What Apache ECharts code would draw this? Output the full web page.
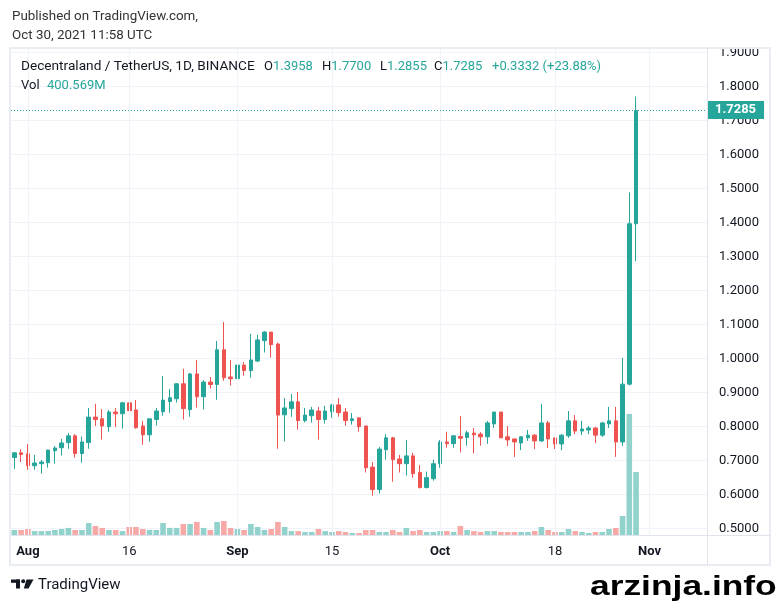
<!DOCTYPE html>
<html><head><meta charset="utf-8">
<script src="https://cdn.jsdelivr.net/npm/echarts@6/dist/echarts.min.js"></script>
<style>html,body{margin:0;padding:0;background:#fff}#c{width:781px;height:605px}</style>
</head><body><div id="c"></div>
<script>
// ---- categories (daily, Jul 30 -> Nov 9, 2021; data ends Oct 30) ----
const dates = ['07-30','07-31',
'08-01','08-02','08-03','08-04','08-05','08-06','08-07','08-08','08-09','08-10','08-11','08-12','08-13','08-14','08-15','08-16','08-17','08-18','08-19','08-20','08-21','08-22','08-23','08-24','08-25','08-26','08-27','08-28','08-29','08-30','08-31',
'09-01','09-02','09-03','09-04','09-05','09-06','09-07','09-08','09-09','09-10','09-11','09-12','09-13','09-14','09-15','09-16','09-17','09-18','09-19','09-20','09-21','09-22','09-23','09-24','09-25','09-26','09-27','09-28','09-29','09-30',
'10-01','10-02','10-03','10-04','10-05','10-06','10-07','10-08','10-09','10-10','10-11','10-12','10-13','10-14','10-15','10-16','10-17','10-18','10-19','10-20','10-21','10-22','10-23','10-24','10-25','10-26','10-27','10-28','10-29','10-30','10-31',
'11-01','11-02','11-03','11-04','11-05','11-06','11-07','11-08','11-09'];

// ---- OHLC series ----
const opens = [0.708,0.722,0.719,0.684,0.690,0.693,0.728,0.737,0.752,0.772,0.720,0.752,0.827,0.822,0.799,0.842,0.837,0.869,0.848,0.801,0.775,0.820,0.843,0.873,0.881,0.925,0.849,0.954,0.887,0.930,0.923,1.025,0.945,
0.940,0.980,0.964,0.992,1.052,1.077,1.042,0.834,0.852,0.872,0.817,0.831,0.845,0.820,0.843,0.863,0.842,0.817,0.825,0.801,0.680,0.614,0.731,0.766,0.704,0.690,0.713,0.664,0.620,0.646,
0.690,0.754,0.749,0.770,0.767,0.780,0.777,0.769,0.807,0.842,0.769,0.763,0.751,0.766,0.774,0.757,0.810,0.766,0.748,0.772,0.816,0.786,0.789,0.795,0.774,0.807,0.816,0.754,0.924,1.3958];
const closes = [0.722,0.717,0.684,0.692,0.695,0.730,0.736,0.751,0.772,0.720,0.754,0.827,0.820,0.801,0.842,0.837,0.869,0.846,0.796,0.775,0.822,0.845,0.877,0.884,0.925,0.852,0.954,0.887,0.930,0.923,1.025,0.943,0.940,
0.980,0.964,0.995,1.054,1.077,1.040,0.833,0.854,0.872,0.817,0.833,0.848,0.820,0.845,0.863,0.840,0.817,0.822,0.799,0.678,0.614,0.733,0.766,0.702,0.690,0.713,0.661,0.620,0.649,0.690,
0.754,0.749,0.772,0.765,0.781,0.775,0.769,0.810,0.842,0.766,0.760,0.754,0.769,0.774,0.757,0.810,0.763,0.748,0.774,0.816,0.786,0.792,0.795,0.774,0.810,0.816,0.754,0.924,1.3958,1.7285];
const lows = [0.675,0.695,0.672,0.672,0.661,0.678,0.690,0.714,0.734,0.708,0.693,0.734,0.801,0.761,0.784,0.798,0.793,0.840,0.793,0.746,0.755,0.802,0.831,0.840,0.870,0.820,0.828,0.855,0.849,0.911,0.878,0.934,0.920,
0.914,0.949,0.943,0.989,1.017,1.002,0.734,0.755,0.828,0.790,0.811,0.811,0.761,0.808,0.825,0.828,0.802,0.805,0.784,0.664,0.596,0.602,0.702,0.637,0.664,0.655,0.649,0.617,0.617,0.640,
0.678,0.737,0.737,0.723,0.743,0.720,0.743,0.748,0.795,0.766,0.742,0.710,0.730,0.757,0.733,0.754,0.736,0.733,0.730,0.766,0.777,0.774,0.777,0.751,0.769,0.795,0.710,0.742,0.920,1.2855];
const highs = [0.724,0.733,0.748,0.716,0.701,0.731,0.742,0.763,0.780,0.777,0.770,0.854,0.866,0.851,0.848,0.854,0.872,0.916,0.877,0.816,0.822,0.854,0.948,0.910,0.927,0.969,0.957,0.995,0.936,0.945,1.051,1.107,0.995,
0.983,0.989,1.072,1.069,1.080,1.077,1.046,0.883,0.895,0.901,0.854,0.857,0.857,0.860,0.866,0.883,0.854,0.839,0.825,0.801,0.695,0.739,0.777,0.769,0.716,0.760,0.722,0.686,0.667,0.702,
0.760,0.784,0.774,0.830,0.787,0.795,0.783,0.816,0.842,0.842,0.801,0.763,0.771,0.789,0.777,0.866,0.816,0.766,0.777,0.845,0.833,0.816,0.801,0.798,0.813,0.857,0.857,1.001,1.488,1.7700];
// volume in millions
const volumes = [32,32,38,25,25,25,32,38,45,32,32,76,57,45,32,32,25,51,51,38,32,32,76,45,45,70,70,83,45,32,83,89,45,
38,32,70,51,32,38,83,51,25,25,19,19,38,25,19,25,19,13,13,32,32,19,19,32,19,45,25,32,19,19,
25,25,19,57,32,25,19,25,25,19,19,19,19,19,25,51,32,19,19,38,25,19,13,19,19,38,45,121,770,400.569];

// ---- tick labels ----
const tickDates = ['08-01','08-16','09-01','09-15','10-01','10-18','11-01'];
const tickTexts = ['Aug','16','Sep','15','Oct','18','Nov'];
const lastPrice = 1.7285;

const UP = '#26a69a', DOWN = '#ef5350', UPV = '#92d2cc', DOWNV = '#f7a9a7';
const FONT = 'Roboto';
const TXT = '#131722';

const candles = opens.map((o, i) => [o, closes[i], lows[i], highs[i]]);
const volData = volumes.map((v, i) => ({value: v, itemStyle: {color: closes[i] >= opens[i] ? UPV : DOWNV}}));

const chart = echarts.init(document.getElementById('c'), null, {renderer: 'canvas'});

function t(x, y, text, style, extra) {
  return Object.assign({type: 'text', x: x, y: y, z: 100, silent: true,
    style: Object.assign({text: text, fill: TXT, fontSize: 13, fontFamily: FONT, verticalAlign: 'middle', align: 'left'}, style || {})}, extra || {});
}
const G = UP;
const rich = {a: {fill: TXT, fontSize: 13, fontFamily: FONT}, b: {fill: G, fontSize: 13, fontFamily: FONT}};
const graphics = [
  {type: 'rect', z: 50, silent: true, shape: {x: 10, y: 48, width: 760, height: 517}, style: {fill: 'none', stroke: '#e9ecf2', lineWidth: 2}},
  {type: 'line', z: 50, silent: true, shape: {x1: 11, y1: 535.5, x2: 770, y2: 535.5}, style: {stroke: '#e0e3eb', lineWidth: 1}},
  {type: 'line', z: 50, silent: true, shape: {x1: 707.5, y1: 48, x2: 707.5, y2: 565}, style: {stroke: '#e0e3eb', lineWidth: 1}},
  t(12, 17, 'Published on TradingView.com,', {fill: '#333'}, {scaleX: 1.03}),
  t(12, 36, 'Oct 30, 2021 11:58 UTC', {fill: '#333'}, {scaleX: 1.03}),
  t(21, 67, 'Decentraland / TetherUS, 1D, BINANCE', {}, {scaleX: 1.05}),
  t(264, 67, '{a|O}{b|1.3958}', {rich: rich}),
  t(322, 67, '{a|H}{b|1.7700}', {rich: rich}),
  t(380, 67, '{a|L}{b|1.2855}', {rich: rich}),
  t(434, 67, '{a|C}{b|1.7285}', {rich: rich}),
  t(492, 67, '+0.3332 (+23.88%)', {fill: G}),
  t(21, 86, 'Vol', {}),
  t(47, 86, '400.569M', {fill: G}),
  // TradingView logo
  {type: 'rect', z: 50, silent: true, shape: {x: 11, y: 579.5, width: 9, height: 3.3}, style: {fill: TXT}},
  {type: 'rect', z: 50, silent: true, shape: {x: 16, y: 579.5, width: 4, height: 9}, style: {fill: TXT}},
  {type: 'circle', z: 50, silent: true, shape: {cx: 23.2, cy: 581.2, r: 2}, style: {fill: TXT}},
  {type: 'polygon', z: 50, silent: true, shape: {points: [[26.5, 579.5], [33.5, 579.5], [28.5, 588.5], [23.8, 588.5]]}, style: {fill: TXT}},
  t(38, 585, 'TradingView', {fontSize: 15}),
  t(590, 587.5, 'arzinja.info', {fill: '#000', fontSize: 27, fontWeight: 'bold', fontFamily: 'Liberation Sans'}, {scaleX: 1.31})
];

const option = {
  animation: false,
  backgroundColor: '#fff',
  grid: [
    {left: 11, right: 74, top: 52.3, bottom: 76.7},
    {left: 11, right: 74, top: 48, bottom: 70}
  ],
  xAxis: [
    {type: 'category', gridIndex: 0, data: dates, boundaryGap: true, show: false},
    {type: 'category', gridIndex: 1, data: dates, boundaryGap: true,
      axisLine: {show: false}, axisTick: {show: false}, splitLine: {show: false},
      axisLabel: {
        interval: (i, v) => tickDates.indexOf(v) >= 0,
        formatter: v => {
          const k = tickDates.indexOf(v);
          const s = tickTexts[k];
          return isNaN(+s) ? '{b|' + s + '}' : s;
        },
        margin: 10, color: TXT, fontSize: 13, fontFamily: FONT,
        rich: {b: {fontWeight: 'bold', color: TXT, fontSize: 13, fontFamily: FONT}}
      }}
  ],
  yAxis: [
    {type: 'value', gridIndex: 0, position: 'right', min: 0.5, max: 1.9, interval: 0.1,
      axisLine: {show: false}, axisTick: {show: false},
      axisLabel: {margin: 12, formatter: v => v.toFixed(4), color: TXT, fontSize: 13, fontFamily: FONT},
      splitLine: {lineStyle: {color: '#f0f3fa', width: 1}}},
    {type: 'value', gridIndex: 1, min: 0, max: 3096, show: false, splitLine: {show: false}}
  ],
  series: [
    {type: 'bar', name: 'Vol', xAxisIndex: 1, yAxisIndex: 1, data: volData, barWidth: 5.6, z: 1,
      markLine: {silent: true, symbol: ['none', 'none'], animation: false, label: {show: false},
        lineStyle: {color: '#f0f3fa', width: 1, type: 'solid'},
        data: tickDates.map(d => ({xAxis: d}))}},
    {type: 'candlestick', name: 'MANAUSDT', xAxisIndex: 0, yAxisIndex: 0, data: candles, barWidth: 4, clip: false, z: 3,
      itemStyle: {color: UP, color0: DOWN, borderColor: UP, borderColor0: DOWN, borderWidth: 1},
      markLine: {silent: true, symbol: ['none', 'none'], animation: false,
        lineStyle: {color: UP, width: 1, type: [1, 2]},
        label: {position: 'end', distance: 0, formatter: lastPrice.toFixed(4), backgroundColor: UP, color: '#fff',
          fontWeight: 'bold', fontSize: 13, fontFamily: FONT, padding: [3, 8, 2, 8]},
        data: [{yAxis: lastPrice}]}}
  ],
  graphic: graphics
};
chart.setOption(option);
</script>
</body></html>
